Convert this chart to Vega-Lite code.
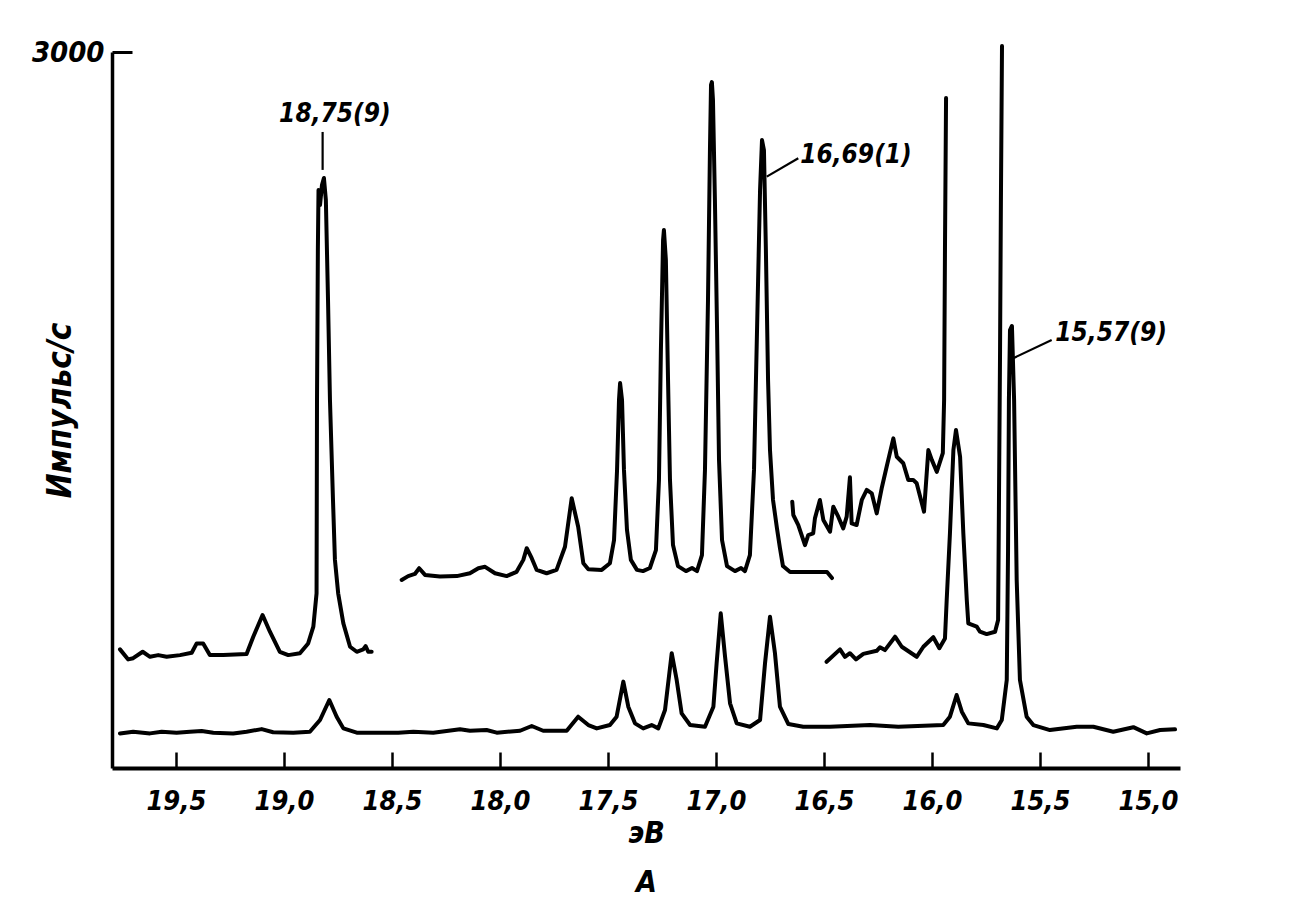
{
  "$schema": "https://vega.github.io/schema/vega-lite/v6.json",
  "autosize": {"type": "none"},
  "width": 1068,
  "height": 716,
  "padding": {"left": 112, "top": 52, "right": 123, "bottom": 149},
  "background": "white",
  "config": {"view": {"stroke": null}, "axis": {"grid": false, "domainColor": "black", "tickColor": "black", "labelColor": "black", "titleColor": "black"}},
  "datasets": {
    "traces": [
      {"t":"UL","e":19.759,"c":497},{"t":"UL","e":19.721,"c":455},{"t":"UL","e":19.698,"c":460},{"t":"UL","e":19.654,"c":487},{"t":"UL","e":19.620,"c":466},{"t":"UL","e":19.582,"c":473},{"t":"UL","e":19.543,"c":466},{"t":"UL","e":19.481,"c":473},{"t":"UL","e":19.427,"c":483},{"t":"UL","e":19.404,"c":522},{"t":"UL","e":19.374,"c":522},{"t":"UL","e":19.343,"c":473},{"t":"UL","e":19.281,"c":473},{"t":"UL","e":19.173,"c":478},{"t":"UL","e":19.142,"c":550},{"t":"UL","e":19.099,"c":641},{"t":"UL","e":19.065,"c":571},{"t":"UL","e":19.019,"c":487},{"t":"UL","e":18.980,"c":473},{"t":"UL","e":18.926,"c":481},{"t":"UL","e":18.888,"c":522},{"t":"UL","e":18.864,"c":592},{"t":"UL","e":18.849,"c":732},{"t":"UL","e":18.847,"c":1542},{"t":"UL","e":18.843,"c":2170},{"t":"UL","e":18.840,"c":2422},{"t":"UL","e":18.833,"c":2359},{"t":"UL","e":18.824,"c":2443},{"t":"UL","e":18.815,"c":2472},{"t":"UL","e":18.806,"c":2380},{"t":"UL","e":18.796,"c":1961},{"t":"UL","e":18.787,"c":1542},{"t":"UL","e":18.773,"c":1123},{"t":"UL","e":18.764,"c":872},{"t":"UL","e":18.749,"c":732},{"t":"UL","e":18.725,"c":606},{"t":"UL","e":18.694,"c":508},{"t":"UL","e":18.663,"c":487},{"t":"UL","e":18.633,"c":497},{"t":"UL","e":18.622,"c":511},{"t":"UL","e":18.610,"c":487},{"t":"UL","e":18.594,"c":487},
      {"t":"B","e":19.759,"c":145},{"t":"B","e":19.698,"c":152},{"t":"B","e":19.620,"c":145},{"t":"B","e":19.566,"c":152},{"t":"B","e":19.497,"c":148},{"t":"B","e":19.435,"c":152},{"t":"B","e":19.381,"c":155},{"t":"B","e":19.327,"c":148},{"t":"B","e":19.235,"c":145},{"t":"B","e":19.173,"c":152},{"t":"B","e":19.103,"c":163},{"t":"B","e":19.050,"c":150},{"t":"B","e":18.957,"c":148},{"t":"B","e":18.880,"c":152},{"t":"B","e":18.833,"c":201},{"t":"B","e":18.790,"c":285},{"t":"B","e":18.756,"c":215},{"t":"B","e":18.725,"c":166},{"t":"B","e":18.663,"c":148},{"t":"B","e":18.571,"c":148},{"t":"B","e":18.471,"c":148},{"t":"B","e":18.401,"c":152},{"t":"B","e":18.309,"c":148},{"t":"B","e":18.185,"c":162},{"t":"B","e":18.139,"c":156},{"t":"B","e":18.062,"c":159},{"t":"B","e":18.015,"c":148},{"t":"B","e":17.907,"c":156},{"t":"B","e":17.853,"c":176},{"t":"B","e":17.800,"c":156},{"t":"B","e":17.691,"c":156},{"t":"B","e":17.638,"c":215},{"t":"B","e":17.591,"c":180},{"t":"B","e":17.552,"c":166},{"t":"B","e":17.491,"c":180},{"t":"B","e":17.460,"c":215},{"t":"B","e":17.429,"c":362},{"t":"B","e":17.406,"c":257},{"t":"B","e":17.375,"c":187},{"t":"B","e":17.337,"c":166},{"t":"B","e":17.298,"c":180},{"t":"B","e":17.267,"c":166},{"t":"B","e":17.236,"c":243},{"t":"B","e":17.205,"c":481},{"t":"B","e":17.182,"c":369},{"t":"B","e":17.159,"c":229},{"t":"B","e":17.120,"c":180},{"t":"B","e":17.051,"c":173},{"t":"B","e":17.012,"c":257},{"t":"B","e":16.997,"c":439},{"t":"B","e":16.978,"c":648},{"t":"B","e":16.958,"c":466},{"t":"B","e":16.935,"c":271},{"t":"B","e":16.904,"c":187},{"t":"B","e":16.843,"c":173},{"t":"B","e":16.796,"c":201},{"t":"B","e":16.773,"c":439},{"t":"B","e":16.750,"c":634},{"t":"B","e":16.727,"c":481},{"t":"B","e":16.704,"c":257},{"t":"B","e":16.665,"c":184},{"t":"B","e":16.596,"c":173},{"t":"B","e":16.472,"c":173},{"t":"B","e":16.287,"c":180},{"t":"B","e":16.156,"c":173},{"t":"B","e":15.948,"c":180},{"t":"B","e":15.917,"c":215},{"t":"B","e":15.886,"c":306},{"t":"B","e":15.862,"c":236},{"t":"B","e":15.832,"c":187},{"t":"B","e":15.762,"c":180},{"t":"B","e":15.700,"c":166},{"t":"B","e":15.677,"c":201},{"t":"B","e":15.654,"c":369},{"t":"B","e":15.648,"c":913},{"t":"B","e":15.644,"c":1542},{"t":"B","e":15.639,"c":1835},{"t":"B","e":15.630,"c":1852},{"t":"B","e":15.620,"c":1542},{"t":"B","e":15.608,"c":788},{"t":"B","e":15.593,"c":369},{"t":"B","e":15.562,"c":215},{"t":"B","e":15.531,"c":180},{"t":"B","e":15.454,"c":159},{"t":"B","e":15.330,"c":173},{"t":"B","e":15.253,"c":173},{"t":"B","e":15.161,"c":152},{"t":"B","e":15.068,"c":171},{"t":"B","e":15.006,"c":145},{"t":"B","e":14.944,"c":159},{"t":"B","e":14.875,"c":162},
      {"t":"M","e":18.455,"c":788},{"t":"M","e":18.425,"c":804},{"t":"M","e":18.394,"c":813},{"t":"M","e":18.374,"c":837},{"t":"M","e":18.347,"c":809},{"t":"M","e":18.278,"c":802},{"t":"M","e":18.200,"c":804},{"t":"M","e":18.139,"c":816},{"t":"M","e":18.100,"c":837},{"t":"M","e":18.069,"c":843},{"t":"M","e":18.023,"c":816},{"t":"M","e":17.969,"c":804},{"t":"M","e":17.923,"c":822},{"t":"M","e":17.892,"c":872},{"t":"M","e":17.876,"c":921},{"t":"M","e":17.853,"c":879},{"t":"M","e":17.830,"c":830},{"t":"M","e":17.784,"c":816},{"t":"M","e":17.738,"c":830},{"t":"M","e":17.699,"c":927},{"t":"M","e":17.668,"c":1130},{"t":"M","e":17.638,"c":1011},{"t":"M","e":17.614,"c":858},{"t":"M","e":17.591,"c":833},{"t":"M","e":17.529,"c":830},{"t":"M","e":17.491,"c":858},{"t":"M","e":17.472,"c":955},{"t":"M","e":17.458,"c":1249},{"t":"M","e":17.449,"c":1542},{"t":"M","e":17.444,"c":1613},{"t":"M","e":17.435,"c":1542},{"t":"M","e":17.426,"c":1249},{"t":"M","e":17.412,"c":997},{"t":"M","e":17.394,"c":872},{"t":"M","e":17.366,"c":830},{"t":"M","e":17.338,"c":825},{"t":"M","e":17.306,"c":838},{"t":"M","e":17.278,"c":913},{"t":"M","e":17.264,"c":1207},{"t":"M","e":17.255,"c":1751},{"t":"M","e":17.245,"c":2212},{"t":"M","e":17.241,"c":2254},{"t":"M","e":17.232,"c":2129},{"t":"M","e":17.222,"c":1626},{"t":"M","e":17.213,"c":1207},{"t":"M","e":17.199,"c":934},{"t":"M","e":17.176,"c":846},{"t":"M","e":17.139,"c":825},{"t":"M","e":17.111,"c":838},{"t":"M","e":17.088,"c":825},{"t":"M","e":17.065,"c":892},{"t":"M","e":17.051,"c":1249},{"t":"M","e":17.037,"c":1961},{"t":"M","e":17.028,"c":2589},{"t":"M","e":17.023,"c":2862},{"t":"M","e":17.019,"c":2874},{"t":"M","e":17.014,"c":2799},{"t":"M","e":17.005,"c":2380},{"t":"M","e":16.995,"c":1835},{"t":"M","e":16.986,"c":1291},{"t":"M","e":16.972,"c":955},{"t":"M","e":16.949,"c":846},{"t":"M","e":16.912,"c":825},{"t":"M","e":16.884,"c":838},{"t":"M","e":16.866,"c":825},{"t":"M","e":16.843,"c":892},{"t":"M","e":16.824,"c":1249},{"t":"M","e":16.810,"c":1835},{"t":"M","e":16.796,"c":2422},{"t":"M","e":16.787,"c":2631},{"t":"M","e":16.778,"c":2589},{"t":"M","e":16.769,"c":2170},{"t":"M","e":16.759,"c":1626},{"t":"M","e":16.750,"c":1332},{"t":"M","e":16.736,"c":1123},{"t":"M","e":16.718,"c":1006},{"t":"M","e":16.704,"c":922},{"t":"M","e":16.690,"c":846},{"t":"M","e":16.657,"c":821},{"t":"M","e":16.565,"c":821},{"t":"M","e":16.486,"c":821},{"t":"M","e":16.463,"c":796},
      {"t":"R1","e":16.647,"c":1116},{"t":"R1","e":16.642,"c":1060},{"t":"R1","e":16.619,"c":1018},{"t":"R1","e":16.588,"c":934},{"t":"R1","e":16.573,"c":976},{"t":"R1","e":16.550,"c":983},{"t":"R1","e":16.542,"c":1046},{"t":"R1","e":16.519,"c":1123},{"t":"R1","e":16.503,"c":1039},{"t":"R1","e":16.472,"c":990},{"t":"R1","e":16.457,"c":1095},{"t":"R1","e":16.434,"c":1053},{"t":"R1","e":16.411,"c":1004},{"t":"R1","e":16.395,"c":1053},{"t":"R1","e":16.380,"c":1218},{"t":"R1","e":16.372,"c":1025},{"t":"R1","e":16.349,"c":1018},{"t":"R1","e":16.325,"c":1123},{"t":"R1","e":16.302,"c":1165},{"t":"R1","e":16.279,"c":1151},{"t":"R1","e":16.256,"c":1067},{"t":"R1","e":16.233,"c":1172},{"t":"R1","e":16.210,"c":1262},{"t":"R1","e":16.179,"c":1381},{"t":"R1","e":16.163,"c":1304},{"t":"R1","e":16.133,"c":1277},{"t":"R1","e":16.110,"c":1207},{"t":"R1","e":16.087,"c":1207},{"t":"R1","e":16.071,"c":1193},{"t":"R1","e":16.037,"c":1074},{"t":"R1","e":16.017,"c":1332},{"t":"R1","e":16.001,"c":1291},{"t":"R1","e":15.978,"c":1241},{"t":"R1","e":15.950,"c":1319},{"t":"R1","e":15.944,"c":1542},{"t":"R1","e":15.940,"c":2170},{"t":"R1","e":15.935,"c":2807},
      {"t":"R2","e":16.488,"c":445},{"t":"R2","e":16.426,"c":497},{"t":"R2","e":16.403,"c":466},{"t":"R2","e":16.380,"c":481},{"t":"R2","e":16.352,"c":455},{"t":"R2","e":16.318,"c":478},{"t":"R2","e":16.256,"c":491},{"t":"R2","e":16.241,"c":506},{"t":"R2","e":16.218,"c":494},{"t":"R2","e":16.171,"c":550},{"t":"R2","e":16.140,"c":508},{"t":"R2","e":16.071,"c":466},{"t":"R2","e":16.040,"c":508},{"t":"R2","e":15.994,"c":548},{"t":"R2","e":15.966,"c":502},{"t":"R2","e":15.940,"c":543},{"t":"R2","e":15.932,"c":704},{"t":"R2","e":15.917,"c":983},{"t":"R2","e":15.901,"c":1332},{"t":"R2","e":15.889,"c":1416},{"t":"R2","e":15.870,"c":1304},{"t":"R2","e":15.855,"c":983},{"t":"R2","e":15.839,"c":704},{"t":"R2","e":15.832,"c":606},{"t":"R2","e":15.793,"c":592},{"t":"R2","e":15.778,"c":571},{"t":"R2","e":15.747,"c":561},{"t":"R2","e":15.708,"c":571},{"t":"R2","e":15.694,"c":620},{"t":"R2","e":15.690,"c":1123},{"t":"R2","e":15.685,"c":1751},{"t":"R2","e":15.681,"c":2380},{"t":"R2","e":15.676,"c":3025}
    ],
    "leaders": [
      {"e": 18.821, "c": 2665, "e2": 18.821, "c2": 2506},
      {"e": 16.765, "c": 2478, "e2": 16.619, "c2": 2555},
      {"e": 15.624, "c": 1717, "e2": 15.446, "c2": 1793}
    ],
    "labels": [
      {"s": "18,75(9)", "e": 18.764, "c": 2740},
      {"s": "16,69(1)", "e": 16.352, "c": 2568},
      {"s": "15,57(9)", "e": 15.171, "c": 1823}
    ]
  },
  "encoding": {
    "x": {
      "field": "e", "type": "quantitative",
      "scale": {"domain": [14.852, 19.796], "reverse": true, "nice": false, "zero": false},
      "axis": {
        "values": [19.5, 19, 18.5, 18, 17.5, 17, 16.5, 16, 15.5, 15],
        "labelExpr": "replace(format(datum.value, '.1f'), '.', ',')",
        "tickSize": -16, "tickWidth": 2.5, "labelPadding": 36,
        "domainWidth": 4,
        "labelFont": "DejaVu Sans Condensed, Liberation Sans Narrow, DejaVu Sans, sans-serif",
        "labelFontSize": 27, "labelFontStyle": "italic", "labelFontWeight": "bold",
        "title": ["эВ", "А"],
        "titleFont": "DejaVu Sans Condensed, Liberation Sans Narrow, DejaVu Sans, sans-serif",
        "titleFontSize": 30, "titleFontStyle": "italic", "titleFontWeight": "bold",
        "titleLineHeight": 49, "titleBaseline": "middle", "titleY": 65
      }
    },
    "y": {
      "field": "c", "type": "quantitative",
      "scale": {"domain": [0, 3000], "nice": false},
      "axis": {
        "values": [3000],
        "format": "d",
        "tickSize": -20, "tickWidth": 3, "labelPadding": 28,
        "domainWidth": 3.5,
        "labelFont": "DejaVu Sans Condensed, Liberation Sans Narrow, DejaVu Sans, sans-serif",
        "labelFontSize": 29, "labelFontStyle": "italic", "labelFontWeight": "bold",
        "title": "Импульс/с",
        "titleFont": "DejaVu Sans Condensed, Liberation Sans Narrow, DejaVu Sans, sans-serif",
        "titleFontSize": 33, "titleFontStyle": "italic", "titleFontWeight": "bold",
        "titleAngle": -90, "titleAlign": "center", "titleBaseline": "middle",
        "titleX": -52
      }
    }
  },
  "layer": [
    {
      "data": {"name": "traces"},
      "mark": {"type": "line", "color": "black", "strokeWidth": 4, "strokeJoin": "round", "strokeCap": "round"},
      "encoding": {"detail": {"field": "t"}}
    },
    {
      "data": {"name": "leaders"},
      "mark": {"type": "rule", "color": "black", "strokeWidth": 2.2},
      "encoding": {"x2": {"field": "e2"}, "y2": {"field": "c2"}}
    },
    {
      "data": {"name": "labels"},
      "mark": {"type": "text", "font": "DejaVu Sans Condensed, Liberation Sans Narrow, DejaVu Sans, sans-serif", "fontSize": 26, "fontStyle": "italic", "fontWeight": "bold", "align": "center", "baseline": "middle", "color": "black"},
      "encoding": {"text": {"field": "s"}}
    }
  ]
}
